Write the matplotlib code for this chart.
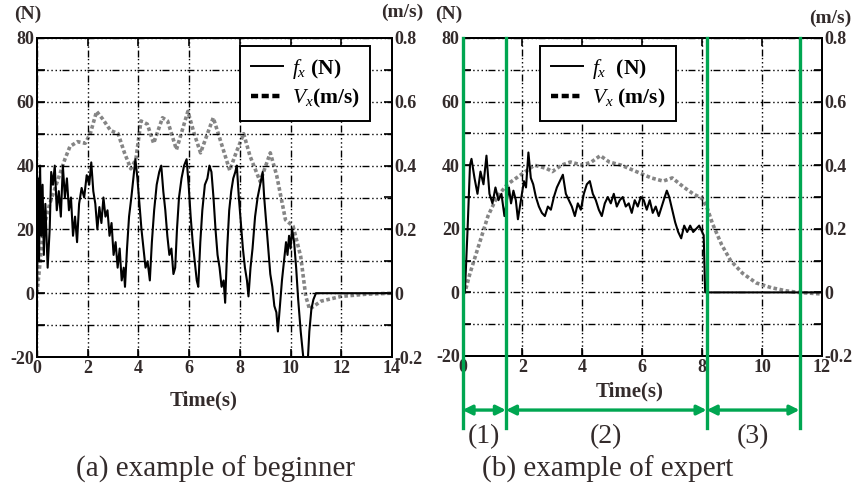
import matplotlib.pyplot as plt
import matplotlib.transforms as mtransforms
from matplotlib.lines import Line2D

plt.rcParams['font.family'] = 'Liberation Serif'
plt.rcParams['mathtext.fontset'] = 'custom'
plt.rcParams['mathtext.it'] = 'Liberation Serif:italic'
plt.rcParams['mathtext.rm'] = 'Liberation Serif'

# (a) beginner: force fx (N) and velocity vx (m/s)
beg_t_f = [0.0, 0.04, 0.08, 0.12, 0.17, 0.22, 0.27, 0.33, 0.42, 0.5,
           0.56, 0.63, 0.7, 0.78, 0.86, 0.94, 1.02, 1.1, 1.18, 1.26,
           1.34, 1.42, 1.5, 1.58, 1.66, 1.76, 1.86, 1.96, 2.06, 2.14,
           2.22, 2.3, 2.38, 2.46, 2.54, 2.62, 2.7, 2.78, 2.86, 2.94,
           3.02, 3.1, 3.18, 3.26, 3.34, 3.42, 3.47, 3.55, 3.63, 3.72,
           3.8, 3.88, 3.96, 4.04, 4.12, 4.2, 4.28, 4.36, 4.45, 4.53,
           4.62, 4.72, 4.82, 4.9, 4.98, 5.06, 5.14, 5.22, 5.3, 5.38,
           5.45, 5.52, 5.6, 5.7, 5.8, 5.9, 5.98, 6.06, 6.14, 6.22,
           6.3, 6.36, 6.44, 6.52, 6.62, 6.72, 6.8, 6.88, 6.96, 7.04,
           7.12, 7.2, 7.28, 7.36, 7.42, 7.5, 7.58, 7.66, 7.74, 7.82,
           7.88, 7.96, 8.04, 8.12, 8.2, 8.28, 8.34, 8.42, 8.5, 8.6,
           8.7, 8.8, 8.9, 8.96, 9.04, 9.12, 9.2, 9.28, 9.36, 9.44,
           9.5, 9.58, 9.66, 9.74, 9.82, 9.88, 9.94, 10.0, 10.06, 10.14,
           10.22, 10.3, 10.4, 10.5, 10.56, 10.66, 10.74, 10.82, 10.9, 11.0,
           12.0, 13.0, 14.0]
beg_f = [0, 36, 10, 40, 18, 34, 12, 28, 8, 20,
         38, 34, 40, 26, 32, 24, 40, 30, 36, 26,
         30, 18, 24, 16, 28, 33, 30, 37, 34, 41,
         32, 28, 20, 27, 22, 30, 24, 26, 18, 22,
         12, 16, 8, 14, 4, 8, 2, 14, 24, 30,
         36, 42, 36, 28, 20, 14, 8, 10, 4, 16,
         26, 34, 38, 40, 32, 26, 18, 12, 14, 6,
         8, 20, 30, 36, 40, 42, 34, 24, 16, 10,
         4, 2, 16, 26, 34, 36, 40, 38, 30, 20,
         12, 8, 2, 4, -3, 14, 26, 32, 36, 38,
         40, 30, 22, 14, 8, 4, -1, 8, 14, 24,
         30, 34, 38, 30, 22, 14, 6, 2, -4, -6,
         -12, -4, 4, 10, 16, 12, 18, 14, 20, 16,
         8, -2, -12, -20, -24, -24, -12, -5, -2, 0,
         0, 0, 0]
beg_t_v = [0.0, 0.1, 0.25, 0.5, 0.8, 1.1, 1.3, 1.6, 1.9, 2.1,
           2.35, 2.6, 2.9, 3.2, 3.45, 3.7, 3.9, 4.1, 4.35, 4.6,
           4.95, 5.15, 5.5, 5.95, 6.2, 6.45, 6.95, 7.15, 7.6, 7.85,
           8.15, 8.4, 8.8, 9.2, 9.45, 9.8, 10.1, 10.4, 10.6, 10.75,
           11.2, 12.0, 13.0, 14.0]
beg_v = [0.0, 0.08, 0.2, 0.28, 0.35, 0.42, 0.46, 0.475, 0.47, 0.5,
         0.57, 0.545, 0.51, 0.5, 0.44, 0.39, 0.42, 0.54, 0.53, 0.47,
         0.55, 0.54, 0.45, 0.57, 0.5, 0.44, 0.55, 0.5, 0.385, 0.44,
         0.5, 0.43, 0.35, 0.44, 0.37, 0.23, 0.21, 0.115, -0.01, -0.05,
         -0.025, -0.01, -0.003, 0.0]

# (b) expert
exp_t_f = [0.0, 0.08, 0.17, 0.25, 0.3, 0.4, 0.5, 0.6, 0.7, 0.8,
           0.9, 1.0, 1.1, 1.2, 1.3, 1.4, 1.5, 1.55, 1.62, 1.7,
           1.78, 1.85, 1.95, 2.05, 2.12, 2.2, 2.28, 2.36, 2.45, 2.55,
           2.65, 2.75, 2.85, 2.95, 3.05, 3.15, 3.25, 3.35, 3.45, 3.55,
           3.65, 3.75, 3.85, 3.95, 4.05, 4.15, 4.25, 4.35, 4.45, 4.55,
           4.65, 4.75, 4.85, 4.95, 5.05, 5.15, 5.25, 5.35, 5.45, 5.55,
           5.65, 5.75, 5.85, 5.95, 6.05, 6.15, 6.25, 6.35, 6.45, 6.55,
           6.65, 6.75, 6.82, 6.9, 7.0, 7.1, 7.2, 7.3, 7.4, 7.5,
           7.6, 7.7, 7.8, 7.9, 8.0, 8.05, 8.1, 9.0, 10.0, 11.0,
           12.0]
exp_f = [0, 0, 20, 40, 42, 36, 31, 38, 34, 43,
         31, 28, 33, 29, 31, 24, 30, 33, 28, 32,
         29, 23, 29, 35, 33, 44, 36, 34, 30, 27,
         25, 24, 27, 26, 30, 33, 35, 37, 31, 29,
         27, 24, 28, 26, 31, 34, 35, 31, 29, 26,
         24, 28, 30, 28, 31, 27, 29, 30, 27, 28,
         25, 29, 27, 30, 29, 26, 29, 25, 27, 24,
         27, 30, 32, 30, 26, 22, 19, 17, 21, 19,
         21, 19, 20, 21, 19, 18, 0, 0, 0, 0,
         0]
exp_t_v = [0.0, 0.08, 0.25, 0.55, 0.85, 1.15, 1.5, 1.8, 2.1, 2.4,
           2.8, 3.0, 3.3, 3.6, 4.0, 4.3, 4.6, 4.9, 5.3, 5.8,
           6.3, 6.7, 7.0, 7.4, 7.7, 8.0, 8.15, 8.35, 8.65, 8.95,
           9.35, 9.8, 10.3, 10.8, 11.2, 12.0]
exp_v = [0.0, 0.0, 0.06, 0.15, 0.24, 0.3, 0.34, 0.36, 0.38, 0.4,
         0.39, 0.38, 0.4, 0.41, 0.4, 0.41, 0.43, 0.41, 0.4, 0.38,
         0.36, 0.35, 0.36, 0.33, 0.31, 0.295, 0.27, 0.215, 0.15, 0.1,
         0.06, 0.03, 0.015, 0.005, 0.0, -0.005]

phase_bounds = [0.0, 1.45, 8.15, 11.25]
phase_labels = ['(1)', '(2)', '(3)']
captions = ['(a) example of beginner', '(b) example of expert']

TXT = '#332b2b'
GREEN = '#00a651'
GRID_LS = (0, (5, 2, 1, 2, 1, 2, 1, 2, 1, 1))

fig = plt.figure(figsize=(8.56, 4.92), dpi=100)


def panel(rect, t_f, f, t_v, v, xmax, legend_anchor, sep=''):
    ax = fig.add_axes(rect)
    ax2 = ax.twinx()
    ax.set_zorder(ax2.get_zorder() + 1)
    ax.patch.set_visible(False)

    ax2.plot(t_v, v, color='#858585', lw=2.6, ls=(0, (1, 0.7)))
    ax.plot(t_f, f, color='k', lw=1.5)

    ax.set_xlim(0, xmax)
    ax.set_ylim(-20, 80)
    ax2.set_ylim(-0.2, 0.8)
    ax.set_xticks(range(0, xmax + 1, 2))
    ax.set_yticks(range(-20, 81, 10))
    ax.set_yticklabels([str(y) if y % 20 == 0 else '' for y in range(-20, 81, 10)])
    vt = [i / 10 for i in range(-2, 9)]
    ax2.set_yticks(vt)
    ax2.set_yticklabels([('%g' % y) if i % 2 == 0 else '' for i, y in enumerate(vt)])

    ax.grid(True, color='k', lw=1.0, ls=GRID_LS)
    for a in (ax, ax2):
        a.tick_params(direction='in', length=6, width=1.2, labelsize=13,
                      labelcolor=TXT, pad=2, top=True)
        for lab in a.get_xticklabels() + a.get_yticklabels():
            lab.set_fontweight('bold')
        for s in a.spines.values():
            s.set_linewidth(1.4)

    handles = [Line2D([], [], color='k', lw=1.4),
               Line2D([], [], color='k', lw=3.2, ls=(0, (1.6, 0.8)))]
    labels = [r'$f_x$ ' + sep + '(N)', r'$V_x$' + sep + '(m/s)']
    leg = ax.legend(handles, labels, loc='upper left', bbox_to_anchor=legend_anchor,
                    frameon=True, fancybox=False, edgecolor='k', framealpha=1,
                    prop={'family': 'Liberation Serif', 'weight': 'bold', 'size': 15.5},
                    handlelength=1.5, handletextpad=0.4, borderpad=0.5,
                    labelspacing=0.3, borderaxespad=0)
    leg.get_frame().set_linewidth(1.4)
    return ax, ax2


axA, _ = panel([37 / 856, 1 - 357 / 492, 355 / 856, 319 / 492],
               beg_t_f, beg_f, beg_t_v, beg_v, 14, (0.572, 0.975))
axB, _ = panel([462.5 / 856, 1 - 356 / 492, 359.5 / 856, 318 / 492],
               exp_t_f, exp_f, exp_t_v, exp_v, 12, (0.216, 0.975), sep=' ')

for ax, x, y in ((axA, 0.468, -0.135), (axB, 0.465, -0.113)):
    ax.text(x, y, 'Time(s)', transform=ax.transAxes,
            ha='center', va='center', fontsize=15, fontweight='bold', color=TXT)

# phase markers on the expert panel
trans = mtransforms.blended_transform_factory(axB.transData, axB.transAxes)
for b in phase_bounds:
    axB.plot([b, b], [1.0, -0.225], transform=trans, clip_on=False,
             color=GREEN, lw=2.4, zorder=10)
for i, lab in enumerate(phase_labels):
    b0, b1 = phase_bounds[i], phase_bounds[i + 1]
    axB.annotate('', xy=(b1, -0.17), xytext=(b0, -0.17), xycoords=trans,
                 textcoords=trans, annotation_clip=False,
                 arrowprops=dict(arrowstyle='<|-|>', color=GREEN, lw=2.4,
                                 mutation_scale=14, shrinkA=0, shrinkB=0))
    axB.text((b0 + b1) / 2, -0.255, lab, transform=trans, ha='center',
             va='center', fontsize=20, color=TXT)

# unit labels
for x, y, s in ((28, 14, '(N)'), (402, 12, '(m/s)'), (449, 14, '(N)'), (830, 18, '(m/s)')):
    fig.text(x / 856, 1 - y / 492, s, ha='center', va='center', fontsize=14,
             fontweight='bold', color=TXT)

for x, s in zip((215, 608), captions):
    fig.text(x / 856, 1 - 469 / 492, s, ha='center', va='center', fontsize=21,
             color=TXT)

fig.savefig('out.png', dpi=100)
